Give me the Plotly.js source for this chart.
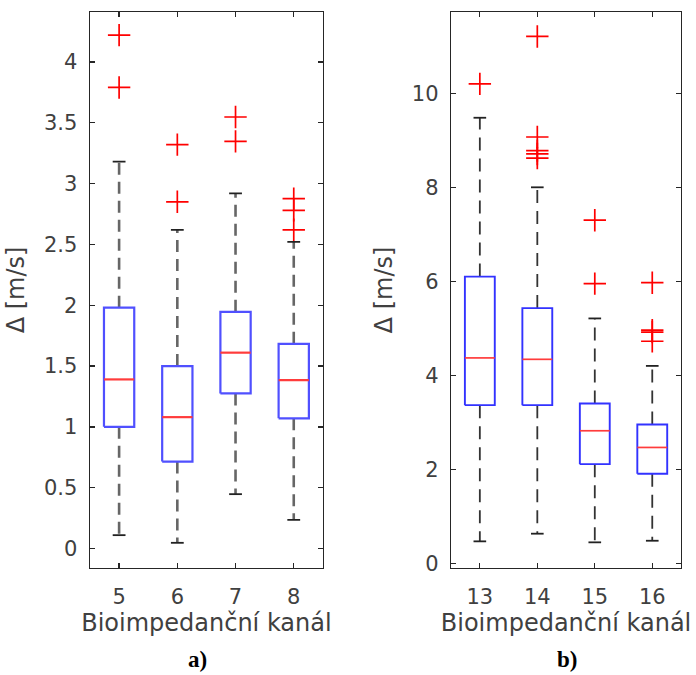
<!DOCTYPE html>
<html>
<head>
<meta charset="utf-8">
<script src="https://cdn.plot.ly/plotly-3.0.1.min.js"></script>
<style>html,body{margin:0;padding:0;background:#fff;}#chart{width:696px;height:675px;}</style>
</head>
<body>
<div id="chart"></div>
<script>
// ---- Panel a) channels 5-8 ----
const catsA = [5, 6, 7, 8];
const q1A = [1.00, 0.715, 1.275, 1.07];
const medA = [1.39, 1.08, 1.61, 1.384];
const q3A = [1.98, 1.50, 1.946, 1.683];
const loA = [0.11, 0.047, 0.447, 0.236];
const hiA = [3.18, 2.62, 2.92, 2.52];
const outXA = [5, 5, 6, 6, 7, 7, 8, 8, 8];
const outYA = [4.22, 3.79, 3.32, 2.85, 3.547, 3.347, 2.876, 2.78, 2.62];

// ---- Panel b) channels 13-16 ----
const catsB = [13, 14, 15, 16];
const q1B = [3.365, 3.365, 2.11, 1.905];
const medB = [4.37, 4.34, 2.82, 2.465];
const q3B = [6.10, 5.43, 3.40, 2.954];
const loB = [0.467, 0.63, 0.446, 0.48];
const hiB = [9.48, 8.0, 5.21, 4.2];
const outXB = [13, 14, 14, 14, 14, 14, 15, 15, 16, 16, 16, 16];
const outYB = [10.2, 11.21, 9.07, 8.78, 8.71, 8.62, 7.30, 5.95, 5.97, 4.96, 4.92, 4.725];

const tickA = [0, 0.5, 1, 1.5, 2, 2.5, 3, 3.5, 4];
const tickLabA = ['0', '0.5', '1', '1.5', '2', '2.5', '3', '3.5', '4'];
const tickB = [0, 2, 4, 6, 8, 10];
const tickLabB = ['0', '2', '4', '6', '8', '10'];

const xTitle = 'Bioimpedanční kanál';
const yTitle = 'Δ [m/s]';
const captions = ['a)', 'b)'];

const HW = 0.26;   // half box width
const CW = 0.11;   // half cap width

function panelTraces(cats, q1, med, q3, lo, hi, ox, oy, xa, ya, st) {
  const bx = [], by = [], mx = [], my = [], wx = [], wy = [], cx = [], cy = [];
  cats.forEach((c, i) => {
    bx.push(c - HW, c + HW, c + HW, c - HW, c - HW, null);
    by.push(q1[i], q1[i], q3[i], q3[i], q1[i], null);
    mx.push(c - HW, c + HW, null);
    my.push(med[i], med[i], null);
    wx.push(c, c, null, c, c, null);
    wy.push(q3[i], hi[i], null, q1[i], lo[i], null);
    cx.push(c - CW, c + CW, null, c - CW, c + CW, null);
    cy.push(hi[i], hi[i], null, lo[i], lo[i], null);
  });
  return [
    {type: 'scatter', mode: 'lines', x: wx, y: wy, xaxis: xa, yaxis: ya,
     line: {color: st.wc, width: st.ww, dash: st.dash}, hoverinfo: 'skip', showlegend: false},
    {type: 'scatter', mode: 'lines', x: cx, y: cy, xaxis: xa, yaxis: ya,
     line: {color: '#222', width: 1.8}, hoverinfo: 'skip', showlegend: false},
    {type: 'scatter', mode: 'lines', x: bx, y: by, xaxis: xa, yaxis: ya,
     line: {color: st.bc, width: st.bw}, hoverinfo: 'skip', showlegend: false},
    {type: 'scatter', mode: 'lines', x: mx, y: my, xaxis: xa, yaxis: ya,
     line: {color: 'rgb(255,60,60)', width: st.mw}, hoverinfo: 'skip', showlegend: false},
    {type: 'scatter', mode: 'markers', x: ox, y: oy, xaxis: xa, yaxis: ya,
     marker: {symbol: 'cross-thin', size: 16, line: {color: 'red', width: 1.7}},
     hoverinfo: 'skip', showlegend: false}
  ];
}

const data = [].concat(
  panelTraces(catsA, q1A, medA, q3A, loA, hiA, outXA, outYA, 'x', 'y',
    {wc: '#666', ww: 2.6, dash: '12px,7px', bc: 'rgb(80,80,255)', bw: 2.2, mw: 2.2}),
  panelTraces(catsB, q1B, medB, q3B, loB, hiB, outXB, outYB, 'x2', 'y2',
    {wc: '#333', ww: 1.8, dash: '13px,8px', bc: 'rgb(50,50,255)', bw: 1.9, mw: 1.7})
);

const fontTick = {family: 'DejaVu Sans', size: 21, color: '#404040'};
const fontTitle = {family: 'DejaVu Sans', size: 24, color: '#404040'};
const axCommon = {
  showline: true, linecolor: '#262626', linewidth: 1.4, mirror: 'ticks',
  ticks: 'inside', ticklen: 5, tickcolor: '#262626', tickwidth: 1.3,
  showgrid: false, zeroline: false, tickfont: fontTick, fixedrange: true
};

const layout = {
  width: 696, height: 675,
  margin: {l: 90, r: 15, t: 12, b: 107},
  paper_bgcolor: '#fff', plot_bgcolor: '#fff',
  showlegend: false,
  xaxis: Object.assign({}, axCommon, {domain: [0, 0.394], range: [4.5, 8.5],
    tickvals: catsA, ticktext: catsA.map(String), ticklabelstandoff: 9,
    title: {text: xTitle, font: fontTitle, standoff: 6}, anchor: 'y'}),
  yaxis: Object.assign({}, axCommon, {domain: [0, 1], range: [-0.16, 4.41],
    tickvals: tickA, ticktext: tickLabA, ticklabelstandoff: 7,
    title: {text: yTitle, font: fontTitle, standoff: 12}, anchor: 'x'}),
  xaxis2: Object.assign({}, axCommon, {domain: [0.611, 1], range: [12.5, 16.5],
    tickvals: catsB, ticktext: catsB.map(String), ticklabelstandoff: 9,
    title: {text: xTitle, font: fontTitle, standoff: 6}, anchor: 'y2'}),
  yaxis2: Object.assign({}, axCommon, {domain: [0, 1], range: [-0.1, 11.73],
    tickvals: tickB, ticktext: tickLabB, ticklabelstandoff: 7,
    title: {text: yTitle, font: fontTitle, standoff: 12}, anchor: 'x2'}),
  annotations: [
    {text: '<b>' + captions[0] + '</b>', xref: 'paper', yref: 'paper', x: (197 - 90) / 591,
     y: -105 / 556, xanchor: 'center', yanchor: 'bottom', showarrow: false, borderpad: 0,
     font: {family: 'Liberation Serif', size: 23, color: '#000'}},
    {text: '<b>' + captions[1] + '</b>', xref: 'paper', yref: 'paper', x: (567 - 90) / 591,
     y: -105 / 556, xanchor: 'center', yanchor: 'bottom', showarrow: false, borderpad: 0,
     font: {family: 'Liberation Serif', size: 23, color: '#000'}}
  ]
};

Plotly.newPlot('chart', data, layout, {displayModeBar: false, staticPlot: true});
</script>
</body>
</html>
